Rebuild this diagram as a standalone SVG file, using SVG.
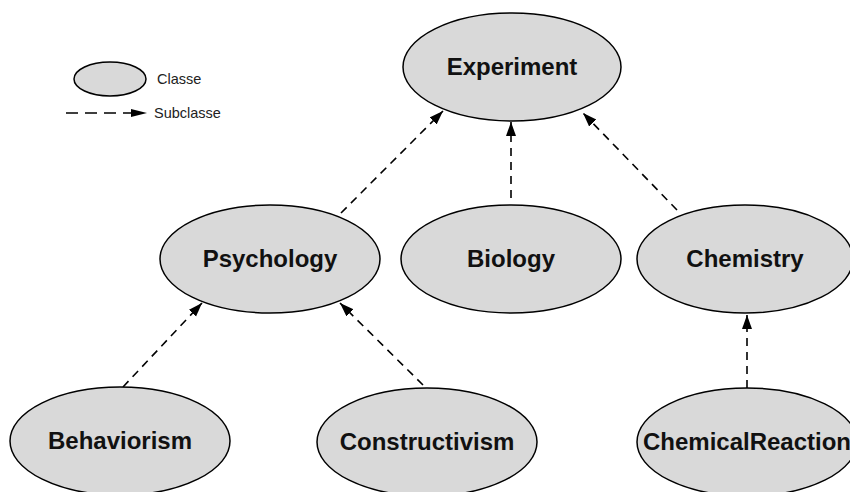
<svg xmlns="http://www.w3.org/2000/svg" width="850" height="492" viewBox="0 0 850 492">
<style>
.node ellipse{fill:#d9d9d9;stroke:#000;stroke-width:1.5}
.node text{font-family:"Liberation Sans",Arial,sans-serif;font-weight:bold;font-size:24px;fill:#111;text-anchor:middle}
.edge{stroke:#000;stroke-width:1.6;stroke-dasharray:8 6;fill:none;marker-end:url(#arr)}
.leg{font-family:"Liberation Sans",Arial,sans-serif;font-size:14.5px;fill:#222}
</style>
<defs>
<marker id="arr" markerUnits="userSpaceOnUse" markerWidth="15" markerHeight="11" refX="14" refY="5" orient="auto">
<path d="M0,0 L14,5 L0,10 z" fill="#000"/>
</marker>
</defs>
<rect width="850" height="492" fill="#fff"/>
<g id="legend">
<ellipse cx="110" cy="79" rx="36" ry="17" fill="#d9d9d9" stroke="#000" stroke-width="1.5"/>
<text class="leg" x="157" y="84">Classe</text>
<line x1="66" y1="113" x2="132" y2="113" stroke="#000" stroke-width="1.6" stroke-dasharray="12 7"/>
<path d="M131,109 L147,113 L131,117 z" fill="#000"/>
<text class="leg" x="154" y="118">Subclasse</text>
</g>
<g id="connectors">
<line class="edge" x1="341" y1="213" x2="443" y2="111"/>
<line class="edge" x1="511" y1="198" x2="511" y2="122"/>
<line class="edge" x1="677" y1="210" x2="583" y2="113"/>
<line class="edge" x1="123" y1="387" x2="202" y2="303"/>
<line class="edge" x1="423" y1="385" x2="340" y2="303"/>
<line class="edge" x1="747" y1="388" x2="747" y2="315"/>
</g>
<g id="experiment" class="node"><ellipse cx="512" cy="67" rx="109" ry="54"/><text x="512" y="75">Experiment</text></g>
<g id="psychology" class="node"><ellipse cx="270" cy="259" rx="110" ry="54"/><text x="270" y="267">Psychology</text></g>
<g id="biology" class="node"><ellipse cx="511" cy="259" rx="110" ry="54"/><text x="511" y="267">Biology</text></g>
<g id="chemistry" class="node"><ellipse cx="745" cy="259" rx="108" ry="54"/><text x="745" y="267">Chemistry</text></g>
<g id="behaviorism" class="node"><ellipse cx="120" cy="441" rx="110" ry="54"/><text x="120" y="449">Behaviorism</text></g>
<g id="constructivism" class="node"><ellipse cx="427" cy="442" rx="110" ry="54"/><text x="427" y="450">Constructivism</text></g>
<g id="chemicalreaction" class="node"><ellipse cx="747" cy="442" rx="110" ry="54"/><text x="747" y="450">ChemicalReaction</text></g>
</svg>
